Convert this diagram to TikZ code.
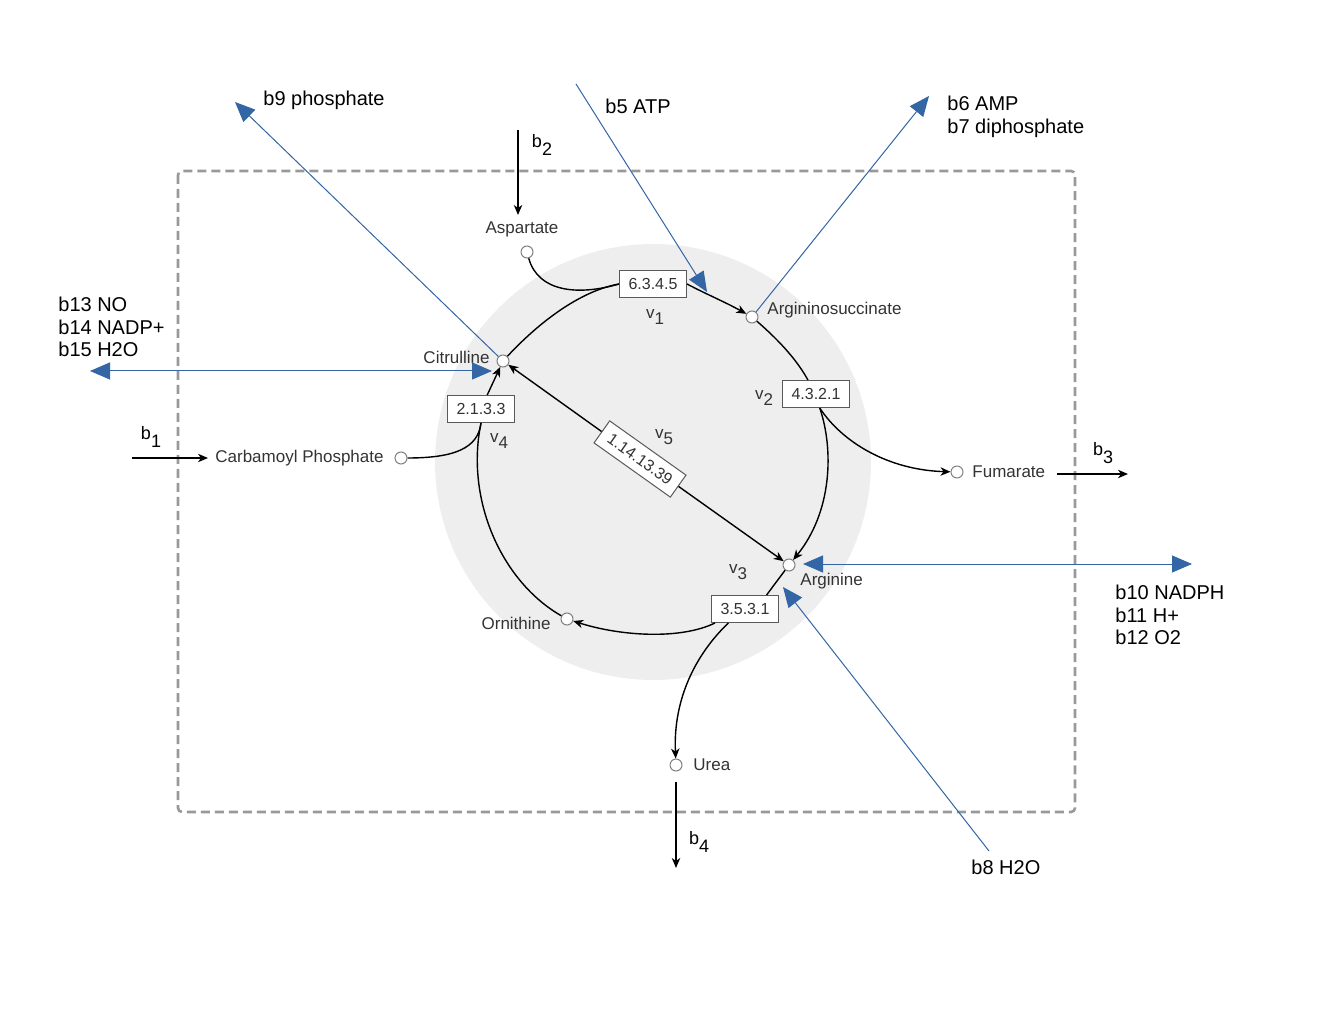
\documentclass[tikz,border=0pt]{standalone}
\usepackage{fontspec}
\setmainfont{Liberation Sans}
\usetikzlibrary{arrows.meta}
\definecolor{poolgray}{HTML}{EEEEEE}
\definecolor{boundgray}{HTML}{999999}
\definecolor{fluxblue}{HTML}{3465A4}
\definecolor{metabtext}{HTML}{333333}
\newcommand{\flx}[3][4pt]{#2\raisebox{-#1}{#3}}
\tikzset{
    % --- metabolites and enzymes ---
    metab/.style={circle, draw=gray, fill=white, line width=0.5pt, minimum size=6pt, inner sep=0pt},
    metlabel/.style={font=\fontsize{8.5}{9}\selectfont, text=metabtext, inner sep=0pt},
    enzyme/.style={draw=black!65, fill=white, line width=0.5pt, font=\fontsize{8}{9}\selectfont,
                   text=metabtext, inner xsep=4.5pt, inner ysep=0pt, minimum height=13.5pt},
    vlabel/.style={font=\fontsize{8.5}{9}\selectfont, text=metabtext, inner sep=0pt},
    % --- connectors ---
    rxn/.style={line width=0.7pt},
    rxnarrow/.style={rxn, -{Stealth[length=5pt,width=4.2pt,inset=1.5pt]}},
    boundary/.style={draw=boundgray, line width=1.3pt, dash pattern=on 4.5pt off 2.5pt, rounded corners=2pt},
    fluxarrow/.style={draw=fluxblue, line width=0.5pt, -{Triangle[length=10pt,width=8.5pt]}},
    fluxboth/.style={draw=fluxblue, line width=0.5pt, {Triangle[length=10pt,width=8.5pt]}-{Triangle[length=10pt,width=8.5pt]}},
    fluxlabel/.style={font=\fontsize{10}{11.3}\selectfont, align=left, anchor=west, inner sep=0pt},
    blabel/.style={font=\fontsize{9}{10}\selectfont, inner sep=0pt}
}

\begin{document}
\begin{tikzpicture}[x=0.5pt,y=-0.5pt]
    \useasboundingbox (0,0) rectangle (1320,1020);

    \fill[poolgray] (653,462) circle (109pt);
    \draw[boundary] (178,171) rectangle (1075,812);

    % metabolites
    \node[metab] (asp)  at (527,252) {};
    \node[metab] (asuc) at (752,317) {};
    \node[metab] (cit)  at (503,361) {};
    \node[metab] (cp)   at (401,458) {};
    \node[metab] (fum)  at (957,472) {};
    \node[metab] (arg)  at (789,565) {};
    \node[metab] (orn)  at (567,619) {};
    \node[metab] (urea) at (676,765) {};

    \node[metlabel] (asplab)  at (522,229) {Aspartate};
    \node[metlabel, anchor=west] (asuclab) at (767,310) {Argininosuccinate};
    \node[metlabel, anchor=east] (citlab)  at (490,357) {Citrulline};
    \node[metlabel, anchor=east] (cplab)   at (384,458) {Carbamoyl Phosphate};
    \node[metlabel, anchor=west] (fumlab)  at (972,472) {Fumarate};
    \node[metlabel, anchor=west] (arglab)  at (800,581) {Arginine};
    \node[metlabel, anchor=east] (ornlab)  at (551,623) {Ornithine};
    \node[metlabel, anchor=west] (urealab) at (693,765) {Urea};

    % enzymes
    \node[enzyme] (e1) at (653,284) {6.3.4.5};
    \node[enzyme] (e2) at (816,394) {4.3.2.1};
    \node[enzyme] (e3) at (745,609) {3.5.3.1};
    \node[enzyme] (e4) at (481,409) {2.1.3.3};
    \node[enzyme, rotate=-35.4] (e5) at (640,459) {1.14.13.39};

    \node[vlabel] at (655,317) {\flx[3pt]{v}{1}};
    \node[vlabel] at (764,398) {\flx[3pt]{v}{2}};
    \node[vlabel] at (738,572) {\flx[3pt]{v}{3}};
    \node[vlabel] at (499,441) {\flx[3pt]{v}{4}};
    \node[vlabel] at (664,437) {\flx[3pt]{v}{5}};

    % v1
    \draw[rxn] (cit) .. controls (545,316) and (585,290) .. (e1.west);
    \draw[rxn] (asp) .. controls (538,292) and (578,296) .. (e1.west);
    \draw[rxnarrow] (e1.east) .. controls (708,295) and (725,302) .. (asuc);
    % v2
    \draw[rxn] (asuc) .. controls (782,343) and (798,362) .. (e2.120);
    \draw[rxnarrow] (e2.-75) .. controls (834,450) and (832,512) .. (arg);
    \draw[rxnarrow] (e2.-75) .. controls (842,442) and (888,470) .. (fum);
    % v3
    \draw[rxn] (arg) -- (e3.33);
    \draw[rxnarrow] (e3.-155) .. controls (680,640) and (620,636) .. (orn);
    \draw[rxnarrow] (e3.-140) .. controls (695,655) and (673,700) .. (urea);
    % v4
    \draw[rxn] (orn) .. controls (502,582) and (465,500) .. (e4.south);
    \draw[rxn] (cp) .. controls (455,458) and (478,448) .. (e4.south);
    \draw[rxnarrow] (e4.66) -- (cit);
    % v5
    \draw[rxnarrow] (e5) -- (cit);
    \draw[rxnarrow] (e5) -- (arg);

    % exchange fluxes
    \coordinate (b1in)  at (132,458);
    \coordinate (b2in)  at (518,130);
    \coordinate (b2out) at (518,215);
    \coordinate (b3in)  at (1057,474);
    \coordinate (b3out) at (1128,474);
    \coordinate (b4in)  at (676,782);
    \coordinate (b4out) at (676,868);
    \draw[rxnarrow, shorten >=3.5pt] (b1in) -- (cplab.west);
    \draw[rxnarrow] (b2in) -- (b2out);
    \draw[rxnarrow] (b3in) -- (b3out);
    \draw[rxnarrow] (b4in) -- (b4out);
    \node[blabel] at (151,437) {\flx{b}{1}};
    \node[blabel] at (542,145) {\flx{b}{2}};
    \node[blabel] at (1103,453) {\flx{b}{3}};
    \node[blabel] at (699,842) {\flx{b}{4}};

    % cofactors
    \coordinate (b9tip)   at (235,102);
    \coordinate (b5in)    at (576,84);
    \coordinate (b5tip)   at (707,292);
    \coordinate (b6tip)   at (929,96);
    \coordinate (b13tip)  at (90,371);
    \coordinate (b13cit)  at (492,371);
    \coordinate (b10arg)  at (803,564);
    \coordinate (b10tip)  at (1192,564);
    \coordinate (b8in)    at (989,851);
    \coordinate (b8tip)   at (783,587);
    \draw[fluxarrow] (cit) -- (b9tip);
    \draw[fluxarrow] (b5in) -- (b5tip);
    \draw[fluxarrow] (asuc) -- (b6tip);
    \draw[fluxboth] (b13tip) -- (b13cit);
    \draw[fluxboth] (b10arg) -- (b10tip);
    \draw[fluxarrow] (b8in) -- (b8tip);

    \node[fluxlabel] at (263,100) {b9 phosphate};
    \node[fluxlabel] at (605,106) {b5 ATP};
    \node[fluxlabel] at (947,117) {b6 AMP\\b7 diphosphate};
    \node[fluxlabel] at (58,327) {b13 NO\\b14 NADP+\\b15 H2O};
    \node[fluxlabel] at (1115,615) {b10 NADPH\\b11 H+\\b12 O2};
    \node[fluxlabel] at (971,867) {b8 H2O};
\end{tikzpicture}
\end{document}
